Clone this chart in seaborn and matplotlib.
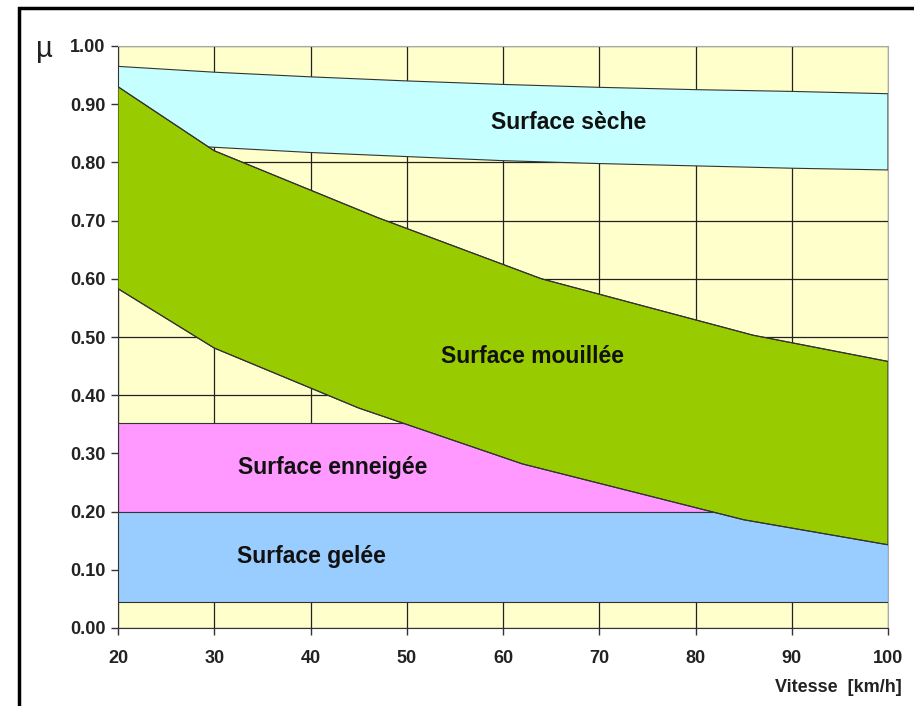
import numpy as np
import pandas as pd
import seaborn as sns
import matplotlib.pyplot as plt
from matplotlib.patches import Rectangle

# boundary points (vitesse km/h -> mu)
seche_x = [20, 30, 40, 50, 60, 70, 80, 90, 100]
seche_haut = [0.965, 0.955, 0.947, 0.940, 0.934, 0.929, 0.925, 0.922, 0.918]
seche_bas = [0.835, 0.826, 0.817, 0.810, 0.803, 0.798, 0.794, 0.790, 0.787]

mouillee_x = [20, 30, 47, 64, 86, 100]
mouillee_haut = [0.930, 0.820, 0.705, 0.600, 0.503, 0.458]
mouillee_bas_x = [20, 30, 45, 62, 85, 100]
mouillee_bas = [0.583, 0.481, 0.378, 0.282, 0.186, 0.143]

enneigee_x = [20, 100]
enneigee_haut = [0.352, 0.352]
enneigee_bas = [0.200, 0.200]

gelee_x = [20, 100]
gelee_haut = [0.200, 0.200]
gelee_bas = [0.045, 0.045]

labels = ["Surface sèche", "Surface mouillée", "Surface enneigée", "Surface gelée"]
label_x = [66.8, 63.1, 42.3, 40.1]
label_y = [0.869, 0.466, 0.275, 0.122]

colors = {"seche": "#c6ffff", "mouillee": "#99cc00", "enneigee": "#ff99ff", "gelee": "#99ccff"}

sns.set_style("white")
plt.rcParams['font.family'] = ['Liberation Sans', 'DejaVu Sans']

fig = plt.figure(figsize=(9.14, 7.06), dpi=100)
ax = fig.add_axes([118 / 914, 1 - 628 / 706, 770 / 914, 582 / 706])
ax.set_facecolor("#ffffcc")

# outer frame of the figure
fig.patches.append(Rectangle((19 / 914, -0.05), 1.1, 1 - 8 / 706 + 0.05, transform=fig.transFigure,
                             fill=False, edgecolor="black", linewidth=2.5))

def band(x, hi, lo, color, x_lo=None, z=2):
    if x_lo is None:
        x_lo = x
    xs = list(x) + list(x_lo)[::-1]
    ys = list(hi) + list(lo)[::-1]
    ax.fill(xs, ys, color=color, zorder=z, edgecolor="#333333", linewidth=0.8)

band(seche_x, seche_haut, seche_bas, colors["seche"], z=2)
band(enneigee_x, enneigee_haut, enneigee_bas, colors["enneigee"], z=2)
band(gelee_x, gelee_haut, gelee_bas, colors["gelee"], z=3)
band(mouillee_x, mouillee_haut, mouillee_bas, colors["mouillee"], x_lo=mouillee_bas_x, z=4)

# boundary lines through seaborn
df = pd.DataFrame({"x": mouillee_x, "y": mouillee_haut})
sns.lineplot(data=df, x="x", y="y", ax=ax, color="#333333", linewidth=0.8, zorder=5)
df = pd.DataFrame({"x": mouillee_bas_x, "y": mouillee_bas})
sns.lineplot(data=df, x="x", y="y", ax=ax, color="#333333", linewidth=0.8, zorder=5)

for t, x, y in zip(labels, label_x, label_y):
    ax.text(x, y, t, ha="center", va="center", fontsize=16.5, fontweight="bold", color="#111111", zorder=6)

ax.set_xlim(20, 100)
ax.set_ylim(0, 1)
ax.set_xticks(np.arange(20, 101, 10))
ax.set_yticks(np.arange(0, 1.01, 0.1))
ax.set_yticklabels([f"{v:.2f}" for v in np.arange(0, 1.01, 0.1)])
ax.grid(True, color="#222222", linewidth=0.9, zorder=1)
ax.set_axisbelow(True)
ax.tick_params(axis="both", direction="out", length=5, width=1, color="#333333",
               labelsize=13, left=True, bottom=True)
ax.tick_params(axis="x", pad=11)
ax.tick_params(axis="y", pad=4)
for lab in ax.get_xticklabels() + ax.get_yticklabels():
    lab.set_fontweight("bold")
    lab.set_color("#222222")
for s in ["left", "bottom"]:
    ax.spines[s].set_color("#333333")
for s in ["top", "right"]:
    ax.spines[s].set_color("#aaaaaa")
ax.set_xlabel("")
ax.set_ylabel("")

fig.text(44 / 914, 1 - 49 / 706, "µ", fontsize=21, ha="center", va="center", color="#222222")
fig.text(902 / 914, 1 - 687 / 706, "Vitesse  [km/h]", fontsize=13, fontweight="bold",
         ha="right", va="center", color="#222222")

fig.savefig("out.png", dpi=100)
